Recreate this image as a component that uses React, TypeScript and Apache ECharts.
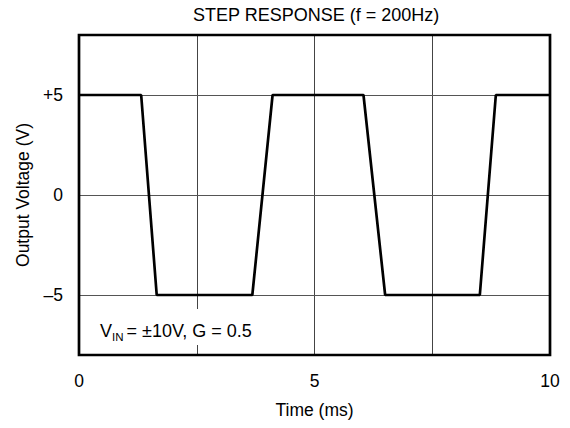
import React, { useEffect, useRef } from "react";
import * as echarts from "echarts";

const titleText = "STEP RESPONSE (f = 200Hz)";
const xAxisName = "Time (ms)";
const yAxisName = "Output Voltage (V)";

// waveform vertices: time (ms), output (V)
const timeMs = [0, 1.32, 1.65, 3.68, 4.11, 6.04, 6.5, 8.51, 8.85, 10];
const outputV = [5, 5, -5, -5, 5, 5, -5, -5, 5, 5];

const xTickValues = [0, 5, 10];
const xTickLabels = ["0", "5", "10"];
const yTickValues = [-5, 0, 5];
const yTickLabels = ["–5", "0", "+5"];

const FONT = "'Liberation Sans', Arial, Helvetica, sans-serif";
const FS = 17.5;
const FS_BIG = 18;

export default function App() {
  const ref = useRef<HTMLDivElement>(null);
  useEffect(() => {
    if (!ref.current) return;
    const chart = echarts.init(ref.current, undefined, { renderer: "svg" });
    const data = timeMs.map((t, i) => [t, outputV[i]]);
    chart.setOption({
      animation: false,
      backgroundColor: "#fff",
      textStyle: { fontFamily: FONT, color: "#000" },
      title: {
        text: titleText,
        left: 193,
        top: 6,
        padding: 0,
        textStyle: { fontFamily: FONT, fontSize: FS_BIG, fontWeight: "normal", color: "#000" },
      },
      grid: {
        left: 79,
        right: 20,
        top: 35,
        bottom: 73,
        show: true,
        borderColor: "#000",
        borderWidth: 2.7,
        backgroundColor: "transparent",
        z: 10,
      },
      xAxis: {
        type: "value",
        min: 0,
        max: 10,
        interval: 2.5,
        name: xAxisName,
        nameLocation: "middle",
        nameGap: 46,
        nameTextStyle: { fontFamily: FONT, fontSize: FS, color: "#000" },
        axisLine: { show: false },
        axisTick: { show: false },
        axisLabel: {
          margin: 17,
          fontFamily: FONT,
          fontSize: FS,
          color: "#000",
          formatter: (v: number) => {
            const i = xTickValues.indexOf(v);
            return i >= 0 ? xTickLabels[i] : "";
          },
        },
        splitLine: { show: true, lineStyle: { color: "#444", width: 1 } },
      },
      yAxis: {
        type: "value",
        min: -8,
        max: 8,
        interval: 1,
        name: yAxisName,
        nameLocation: "middle",
        nameGap: 47,
        nameRotate: 90,
        nameTextStyle: { fontFamily: FONT, fontSize: FS, color: "#000" },
        axisLine: { show: false },
        axisTick: { show: false },
        axisLabel: {
          margin: 16,
          fontFamily: FONT,
          fontSize: FS,
          color: "#000",
          formatter: (v: number) => {
            const i = yTickValues.indexOf(v);
            return i >= 0 ? yTickLabels[i] : "";
          },
        },
        splitLine: { show: false },
      },
      series: [
        {
          type: "line",
          data,
          symbol: "none",
          z: 5,
          lineStyle: { color: "#000", width: 2.7 },
          markLine: {
            silent: true,
            symbol: "none",
            z: 1,
            label: { show: false },
            lineStyle: { color: "#555", width: 1, type: "solid" },
            data: yTickValues.map((v) => ({ yAxis: v })),
          },
        },
      ],
      graphic: [
        {
          type: "rect",
          z: 20,
          shape: { x: 95, y: 309, width: 170, height: 36 },
          style: { fill: "#fff" },
        },
        {
          type: "text",
          z: 21,
          x: 100,
          y: 331,
          style: { text: "V", fontFamily: FONT, fontSize: FS_BIG, fill: "#000", verticalAlign: "middle" },
        },
        {
          type: "text",
          z: 21,
          x: 112,
          y: 337,
          style: { text: "IN", fontFamily: FONT, fontSize: 11.5, fill: "#000", verticalAlign: "middle" },
        },
        {
          type: "text",
          z: 21,
          x: 126.5,
          y: 331,
          style: { text: "= ±10V, G = 0.5", fontFamily: FONT, fontSize: FS_BIG, fill: "#000", verticalAlign: "middle" },
        },
      ],
    });
    return () => chart.dispose();
  }, []);
  return (
    <div
      ref={ref}
      style={{ position: "fixed", left: 0, top: 0, width: 570, height: 428, background: "#fff" }}
    />
  );
}
